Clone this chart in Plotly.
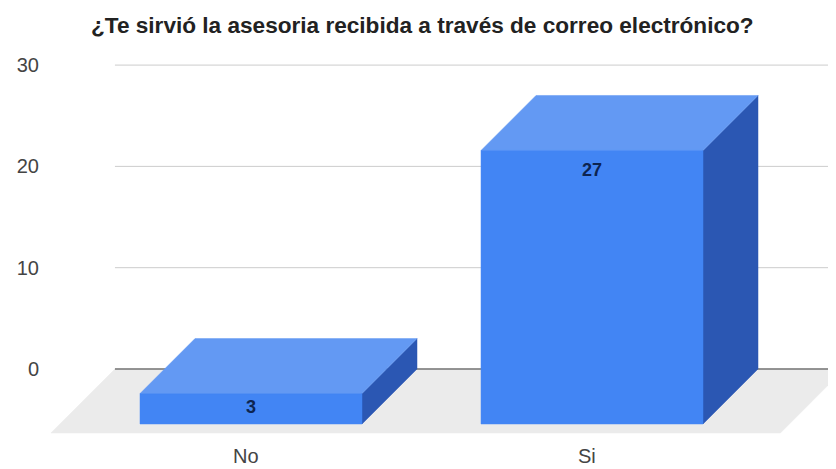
import plotly.graph_objects as go

# ---- data ----
categories = ["No", "Si"]
values = [3, 27]
y_ticks = [0, 10, 20, 30]
title_text = "¿Te sirvió la asesoria recibida a través de correo electrónico?"

# ---- 3D styling (axis units) ----
bar_w = 0.651
dep_x, dep_y = 0.1613, 5.43      # bar depth offset
floor_dx, floor_dy = 0.1877, 6.32
plane_left, plane_right = -0.399, 1.74

c_front = "#4285f4"
c_top = "#6399f3"
c_side = "#2b57b3"
c_floor = "#ebebeb"

# page body has an 8px margin: figure is drawn 8px in from top-left
W, H = 828, 461

fig = go.Figure()

def poly(xs, ys, color, line_color=None):
    fig.add_trace(go.Scatter(
        x=xs + [xs[0]], y=ys + [ys[0]], mode="lines", fill="toself",
        fillcolor=color, line=dict(color=line_color or color, width=0.5),
        hoverinfo="skip", showlegend=False))

# floor
poly([plane_left, plane_right, plane_right - floor_dx, plane_left - floor_dx],
     [0, 0, -floor_dy, -floor_dy], c_floor)

# gridlines
for t in y_ticks:
    fig.add_trace(go.Scatter(
        x=[plane_left, plane_right], y=[t, t], mode="lines",
        line=dict(color="#333333" if t == 0 else "#cccccc", width=1),
        hoverinfo="skip", showlegend=False))

# bars
lab_x, lab_y, lab_t = [], [], []
for i, (cat, v) in enumerate(zip(categories, values)):
    xl, xr = i - bar_w / 2, i + bar_w / 2
    bot, top = -dep_y, v - dep_y
    # side
    poly([xr, xr + dep_x, xr + dep_x, xr], [bot, 0, v, top], c_side)
    # top
    poly([xl, xr, xr + dep_x, xl + dep_x], [top, top, v, v], c_top)
    # front
    poly([xl, xr, xr, xl], [bot, bot, top, top], c_front)
    lab_x.append(i)
    lab_y.append(max(top - 2.12, (top + bot) / 2))
    lab_t.append(str(v))

fig.add_trace(go.Scatter(
    x=lab_x, y=lab_y, text=lab_t, mode="text", textposition="middle center",
    textfont=dict(family="Liberation Sans", size=18, color="#0d2450", weight="bold"),
    hoverinfo="skip", showlegend=False))

fig.update_layout(
    width=W, height=H,
    margin=dict(l=38, r=0, t=42, b=29, autoexpand=False),
    paper_bgcolor="white", plot_bgcolor="white",
    title=dict(text="<b>" + title_text + "</b>", x=83 / W, xanchor="left",
               xref="container", y=1 - 17 / H, yanchor="middle", yref="container",
               font=dict(family="Liberation Sans", size=22.6, color="#222222")),
    xaxis=dict(range=[-0.6012, 1.7155], tickvals=[i - 0.015 for i in range(len(categories))],
               ticktext=categories, showgrid=False, zeroline=False, showline=False,
               automargin=False, ticks="", ticklabelstandoff=2,
               tickfont=dict(family="Liberation Sans", size=20, color="#444444")),
    yaxis=dict(range=[-7.01, 31.49], tickvals=y_ticks, showgrid=False, zeroline=False,
               showline=False, ticks="", ticklabelstandoff=6, automargin=False,
               tickfont=dict(family="Liberation Sans", size=20, color="#444444")),
)

fig.write_html("out.html")
